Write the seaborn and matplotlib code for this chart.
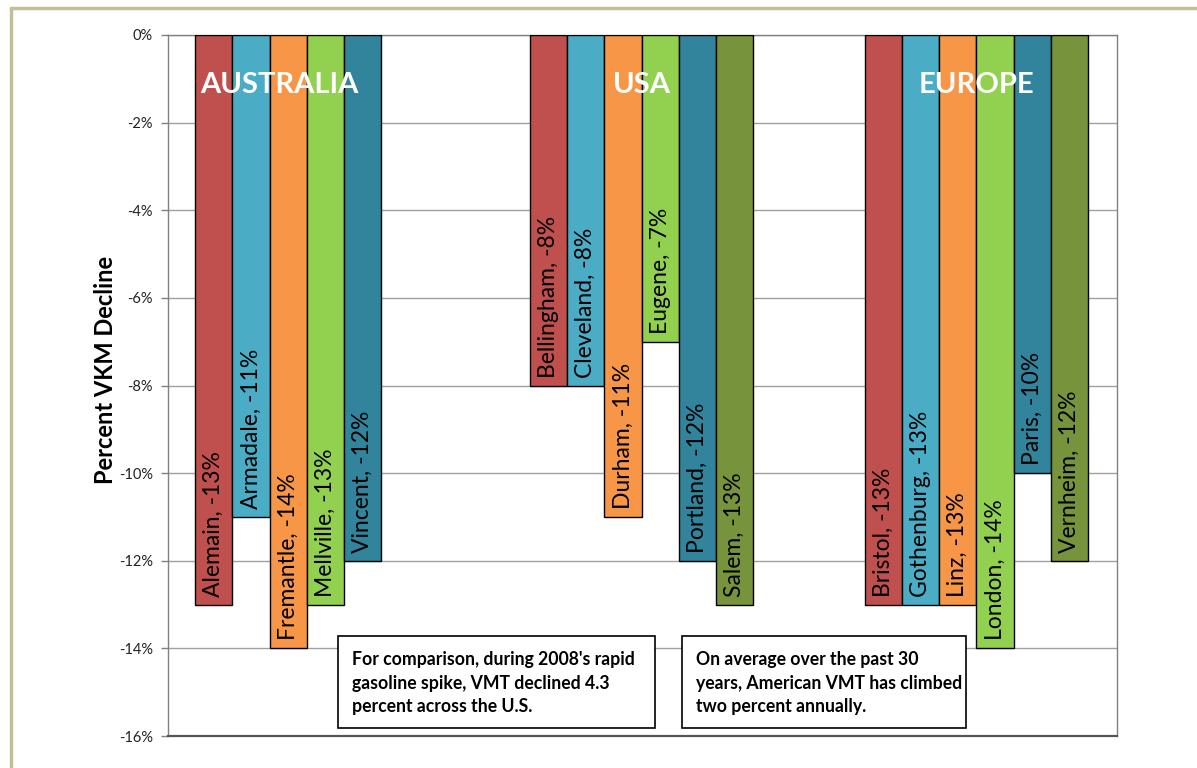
import pandas as pd
import matplotlib.pyplot as plt
import matplotlib.patches as mpatches
import matplotlib.lines as mlines
import seaborn as sns

# ------------------------------------------------------------
# Datos
# ------------------------------------------------------------
GROUPS = ['AUSTRALIA', 'USA', 'EUROPE']

australia_cities = ['Alemain', 'Armadale', 'Fremantle', 'Mellville', 'Vincent']
australia_values = [-13, -11, -14, -13, -12]

usa_cities = ['Bellingham', 'Cleveland', 'Durham', 'Eugene', 'Portland', 'Salem']
usa_values = [-8, -8, -11, -7, -12, -13]

europe_cities = ['Bristol', 'Gothenburg', 'Linz', 'London', 'Paris', 'Vernheim']
europe_values = [-13, -13, -13, -14, -10, -12]

y_ticks = [0, -2, -4, -6, -8, -10, -12, -14, -16]

note_left = "For comparison, during 2008's rapid\ngasoline spike, VMT declined 4.3\npercent across the U.S."
note_right = "On average over the past 30\nyears, American VMT has climbed\ntwo percent annually."

PALETTE = ['#C0504D', '#4BACC6', '#F79646', '#92D050', '#31849B', '#77933C']

# ------------------------------------------------------------
# Tabla larga
# ------------------------------------------------------------
GROUP_STEP = 9
rows = []
for g, (cities, values) in enumerate([(australia_cities, australia_values),
                                      (usa_cities, usa_values),
                                      (europe_cities, europe_values)]):
    for i, (c, v) in enumerate(zip(cities, values)):
        rows.append({'group': GROUPS[g], 'city': c, 'value': v,
                     'slot': i, 'pos': g * GROUP_STEP + i})
df = pd.DataFrame(rows)

# ------------------------------------------------------------
# Figura
# ------------------------------------------------------------
sns.set_theme(style='white')
plt.rcParams['font.family'] = ['Lato', 'DejaVu Sans']

W, H = 1197, 768
fig = plt.figure(figsize=(W / 100, H / 100), dpi=100)
ax = fig.add_axes([168 / W, (H - 736) / H, (1117 - 168) / W, (736 - 35) / H])

sns.barplot(data=df, x='pos', y='value', hue='slot', palette=PALETTE,
            native_scale=True, dodge=False, width=1.0, errorbar=None,
            saturation=1, edgecolor='black', linewidth=1.0, legend=False,
            ax=ax, zorder=3)

ax.set_xlim(-1.23, 24.28)
ax.set_ylim(-16, 0)
ax.set_xticks([])
ax.set_yticks(y_ticks)
ax.set_yticklabels([f'{t}%' for t in y_ticks], fontsize=10.5, color='#222222')
ax.tick_params(axis='y', which='major', direction='out', length=5,
               width=1, color='#808080', pad=6, left=True)
ax.yaxis.grid(True, color='#A0A0A0', linewidth=1)
ax.set_axisbelow(True)
for side in ['left', 'right', 'top', 'bottom']:
    ax.spines[side].set_visible(True)
    ax.spines[side].set_color('#808080')
    ax.spines[side].set_linewidth(1)
ax.spines['bottom'].set_color('#555555')
ax.spines['bottom'].set_linewidth(1.6)

ax.set_xlabel('')
ax.set_ylabel('Percent VKM Decline', fontsize=17, fontweight='bold',
              color='black')
ax.yaxis.set_label_coords(-0.054, 0.522)

# Etiquetas dentro de las barras
for _, r in df.iterrows():
    ax.text(r['pos'], r['value'] + 0.18, f"{r['city']}, {r['value']}%",
            rotation=90, ha='center', va='bottom', fontsize=16.5,
            color='black', zorder=4)

# Nombres de grupo
group_x = [1.75, 11.5, 20.5]
for gx, name in zip(group_x, GROUPS):
    ax.text(gx, -1.15, name, ha='center', va='center', fontsize=21,
            fontweight='bold', color='white', zorder=5)

# Cuadros de notas
for (x0, x1), txt in [((338, 655), note_left), ((682, 966), note_right)]:
    rect = mpatches.Rectangle((x0 / W, (H - 728) / H), (x1 - x0) / W, 92 / H,
                              transform=fig.transFigure, facecolor='white',
                              edgecolor='black', linewidth=1.2, zorder=10)
    fig.patches.append(rect)
    fig.text((x0 + 14) / W, (H - 683) / H, txt, ha='left', va='center',
             fontsize=12.7, fontweight='bold', color='black',
             linespacing=1.45, zorder=11)

# Borde exterior (superior e izquierdo)
border_kw = dict(color='#C4BD97', linewidth=2.5, transform=fig.transFigure)
fig.lines.append(mlines.Line2D([11 / W, 1], [1 - 8 / H, 1 - 8 / H], **border_kw))
fig.lines.append(mlines.Line2D([11 / W, 11 / W], [0, 1 - 8 / H], **border_kw))

fig.savefig('out.png', dpi=100)
